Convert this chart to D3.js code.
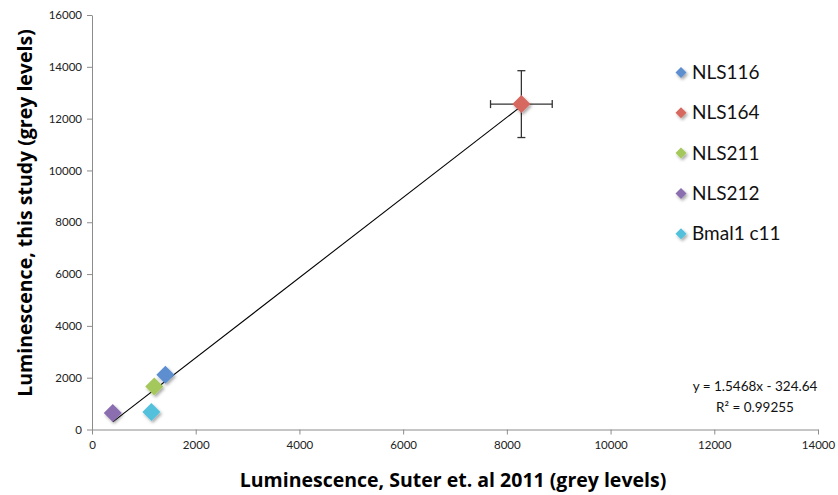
<!DOCTYPE html>
<html>
<head>
<meta charset="utf-8">
<script src="https://cdn.jsdelivr.net/npm/d3@7"></script>
<style>
  body { margin: 0; background: #fff; }
  svg text { font-family: Lato, "Open Sans", sans-serif; }
  svg text.title { font-family: "Open Sans", sans-serif; font-weight: bold; }
</style>
</head>
<body>
<div id="chart"></div>
<script>
// series
var seriesNames = ["NLS116", "NLS164", "NLS211", "NLS212", "Bmal1 c11"];
var seriesColors = ["#5b8ed0", "#d6675f", "#a5c85c", "#8a6eb0", "#52c0dc"];
var xValues = [1415, 8280, 1200, 400, 1145];
var yValues = [2110, 12560, 1660, 640, 680];
// error bars only on NLS164
var xErrors = [0, 595, 0, 0, 0];
var yErrors = [0, 1290, 0, 0, 0];

var xTicks = [0, 2000, 4000, 6000, 8000, 10000, 12000, 14000];
var yTicks = [0, 2000, 4000, 6000, 8000, 10000, 12000, 14000, 16000];

var slope = 1.5468, intercept = -324.64;
var eqLines = ["y = 1.5468x - 324.64", "R\u00b2 = 0.99255"];

var width = 838, height = 495;
var margins = { top: 15, right: 20, bottom: 65, left: 92 };

var svg = d3.select('#chart').append('svg')
    .attr('width', width)
    .attr('height', height);

var defs = svg.append('defs');
var shadow = defs.append('filter').attr('id', 'shadow')
    .attr('x', '-50%').attr('y', '-50%').attr('width', '200%').attr('height', '200%');
shadow.append('feDropShadow')
    .attr('dx', 1.5).attr('dy', 2).attr('stdDeviation', 1.5)
    .attr('flood-color', '#000').attr('flood-opacity', 0.35);

var xScale = d3.scaleLinear()
    .domain([0, 14000])
    .range([margins.left, 818]);
var yScale = d3.scaleLinear()
    .domain([0, 16000])
    .range([429.5, 15]);

// axes
var xAxis = d3.axisBottom(xScale)
    .tickValues(xTicks)
    .tickFormat(d3.format('d'))
    .tickSize(5)
    .tickSizeOuter(0)
    .tickPadding(6);
var yAxis = d3.axisLeft(yScale)
    .tickValues(yTicks)
    .tickFormat(d3.format('d'))
    .tickSize(5)
    .tickSizeOuter(0)
    .tickPadding(5);

svg.append('g')
    .attr('class', 'xAxis')
    .attr('transform', 'translate(0,' + yScale(0) + ')')
    .call(xAxis);
svg.append('g')
    .attr('class', 'yAxis')
    .attr('transform', 'translate(' + xScale(0) + ',0)')
    .call(yAxis);

svg.selectAll('.xAxis path, .yAxis path, .xAxis line, .yAxis line')
    .attr('stroke', '#8c8c8c');
svg.selectAll('.xAxis text, .yAxis text')
    .attr('fill', '#222')
    .style('font-size', '11.5px');

// axis titles
svg.append('text')
    .attr('class', 'title')
    .attr('x', 453)
    .attr('y', 487)
    .attr('text-anchor', 'middle')
    .style('font-size', '19.5px')
    .text('Luminescence, Suter et. al 2011 (grey levels)');

svg.append('text')
    .attr('class', 'title')
    .attr('transform', 'translate(32,' + 213 + ') rotate(-90)')
    .attr('text-anchor', 'middle')
    .style('font-size', '19.5px')
    .text('Luminescence, this study (grey levels)');

// trend line across the data range
var xMin = d3.min(xValues), xMax = d3.max(xValues);
svg.append('line')
    .attr('x1', xScale(xMin))
    .attr('y1', yScale(slope * xMin + intercept))
    .attr('x2', xScale(xMax))
    .attr('y2', yScale(slope * xMax + intercept))
    .attr('stroke', '#000')
    .attr('stroke-width', 1.1);

var diamond = function (r) {
    return 'M0,' + (-r) + 'L' + r + ',0L0,' + r + 'L' + (-r) + ',0Z';
};

// error bars
var errGroup = svg.append('g').attr('class', 'errors');
xValues.forEach(function (x, i) {
    if (!xErrors[i] && !yErrors[i]) return;
    var cx = xScale(x), cy = yScale(yValues[i]);
    var x0 = xScale(x - xErrors[i]), x1 = xScale(x + xErrors[i]);
    var y0 = yScale(yValues[i] - yErrors[i]), y1 = yScale(yValues[i] + yErrors[i]);
    var cap = 4;
    var segs = [
        [x0, cy, x1, cy], [x0, cy - cap, x0, cy + cap], [x1, cy - cap, x1, cy + cap],
        [cx, y0, cx, y1], [cx - cap, y0, cx + cap, y0], [cx - cap, y1, cx + cap, y1]
    ];
    errGroup.selectAll(null)
        .data(segs)
        .enter().append('line')
        .attr('x1', function (d) { return d[0]; })
        .attr('y1', function (d) { return d[1]; })
        .attr('x2', function (d) { return d[2]; })
        .attr('y2', function (d) { return d[3]; })
        .attr('stroke', '#333')
        .attr('stroke-width', 1.3);
});

// markers
svg.append('g').attr('class', 'items')
    .selectAll('path')
    .data(seriesNames)
    .enter().append('path')
    .attr('d', diamond(9))
    .attr('transform', function (d, i) { return 'translate(' + xScale(xValues[i]) + ',' + yScale(yValues[i]) + ')'; })
    .attr('fill', function (d, i) { return seriesColors[i]; })
    .attr('filter', 'url(#shadow)');

// legend
var legend = svg.append('g').attr('class', 'chart-legend');
var rows = legend.selectAll('g')
    .data(seriesNames)
    .enter().append('g')
    .attr('transform', function (d, i) { return 'translate(681,' + (72.5 + i * 40.3) + ')'; });
rows.append('path')
    .attr('d', diamond(5.5))
    .attr('fill', function (d, i) { return seriesColors[i]; })
    .attr('filter', 'url(#shadow)');
rows.append('text')
    .attr('x', 11)
    .attr('dy', '0.35em')
    .style('font-size', '19px')
    .attr('fill', '#111')
    .text(function (d) { return d; });

// equation
svg.append('g').selectAll('text')
    .data(eqLines)
    .enter().append('text')
    .attr('x', 755)
    .attr('y', function (d, i) { return 391 + i * 21; })
    .attr('text-anchor', 'middle')
    .style('font-size', '13.5px')
    .attr('fill', '#111')
    .text(function (d) { return d; });
</script>
</body>
</html>
